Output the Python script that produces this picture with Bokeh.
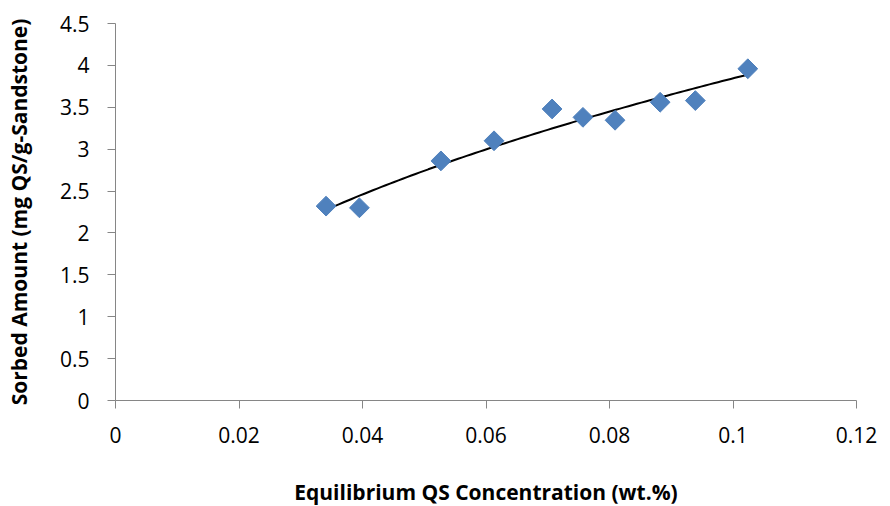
import numpy as np
from bokeh.plotting import figure
from bokeh.models import FixedTicker, Range1d, ColumnDataSource
from bokeh.embed import file_html
from bokeh.resources import INLINE

# Data
conc = [0.0341, 0.0395, 0.0527, 0.0613, 0.0707, 0.0757, 0.0809, 0.0882, 0.0939, 0.1024]
sorbed = [2.32, 2.30, 2.86, 3.10, 3.48, 3.38, 3.345, 3.56, 3.58, 3.96]

x_ticks = [0, 0.02, 0.04, 0.06, 0.08, 0.10, 0.12]
x_tick_labels = ["0", "0.02", "0.04", "0.06", "0.08", "0.1", "0.12"]
y_ticks = [0, 0.5, 1, 1.5, 2, 2.5, 3, 3.5, 4, 4.5]
y_tick_labels = ["0", "0.5", "1", "1.5", "2", "2.5", "3", "3.5", "4", "4.5"]

x_title = "Equilibrium QS Concentration (wt.%)"
y_title = "Sorbed Amount (mg QS/g-Sandstone)"

# Power trendline (least squares in log space, as Excel does)
b, ln_a = np.polyfit(np.log(conc), np.log(sorbed), 1)
fit_x = np.linspace(min(conc), max(conc), 100)
fit_y = np.exp(ln_a) * fit_x ** b

FONT = "Open Sans"
AXIS_COLOR = "#868686"

p = figure(
    output_backend="svg", toolbar_location=None,
    frame_width=741, frame_height=377,
    min_border_left=115, min_border_right=34, min_border_top=23, min_border_bottom=106,
    x_range=Range1d(0, 0.12), y_range=Range1d(0, 4.5),
)
p.outline_line_color = None
p.grid.visible = False
p.background_fill_color = "white"
p.border_fill_color = "white"

p.line(fit_x, fit_y, line_color="black", line_width=2)
src = ColumnDataSource(dict(x=conc, y=sorbed))
p.scatter("x", "y", source=src, marker="square", angle=np.pi / 4, size=14,
          fill_color="#4F81BD", line_color="#4F81BD", line_width=1)

for ax, ticks, labels in ((p.xaxis[0], x_ticks, x_tick_labels), (p.yaxis[0], y_ticks, y_tick_labels)):
    ax.ticker = FixedTicker(ticks=ticks)
    ax.major_label_overrides = {t: l for t, l in zip(ticks, labels)}
    ax.minor_tick_line_color = None
    ax.axis_line_color = AXIS_COLOR
    ax.major_tick_line_color = AXIS_COLOR
    ax.major_tick_in = 0
    ax.major_tick_out = 8
    ax.major_label_text_font = FONT
    ax.major_label_text_font_size = "21px"
    ax.major_label_text_color = "black"
    ax.axis_label_text_font = FONT
    ax.axis_label_text_font_style = "bold"
    ax.axis_label_text_font_size = "21px"
    ax.axis_label_text_color = "black"

p.xaxis.axis_label = x_title
p.yaxis.axis_label = y_title
p.xaxis.major_label_standoff = 18
p.xaxis.axis_label_standoff = 32
p.yaxis.major_label_standoff = 18
p.yaxis.axis_label_standoff = 24

open("out.html", "w").write(file_html(p, INLINE))
